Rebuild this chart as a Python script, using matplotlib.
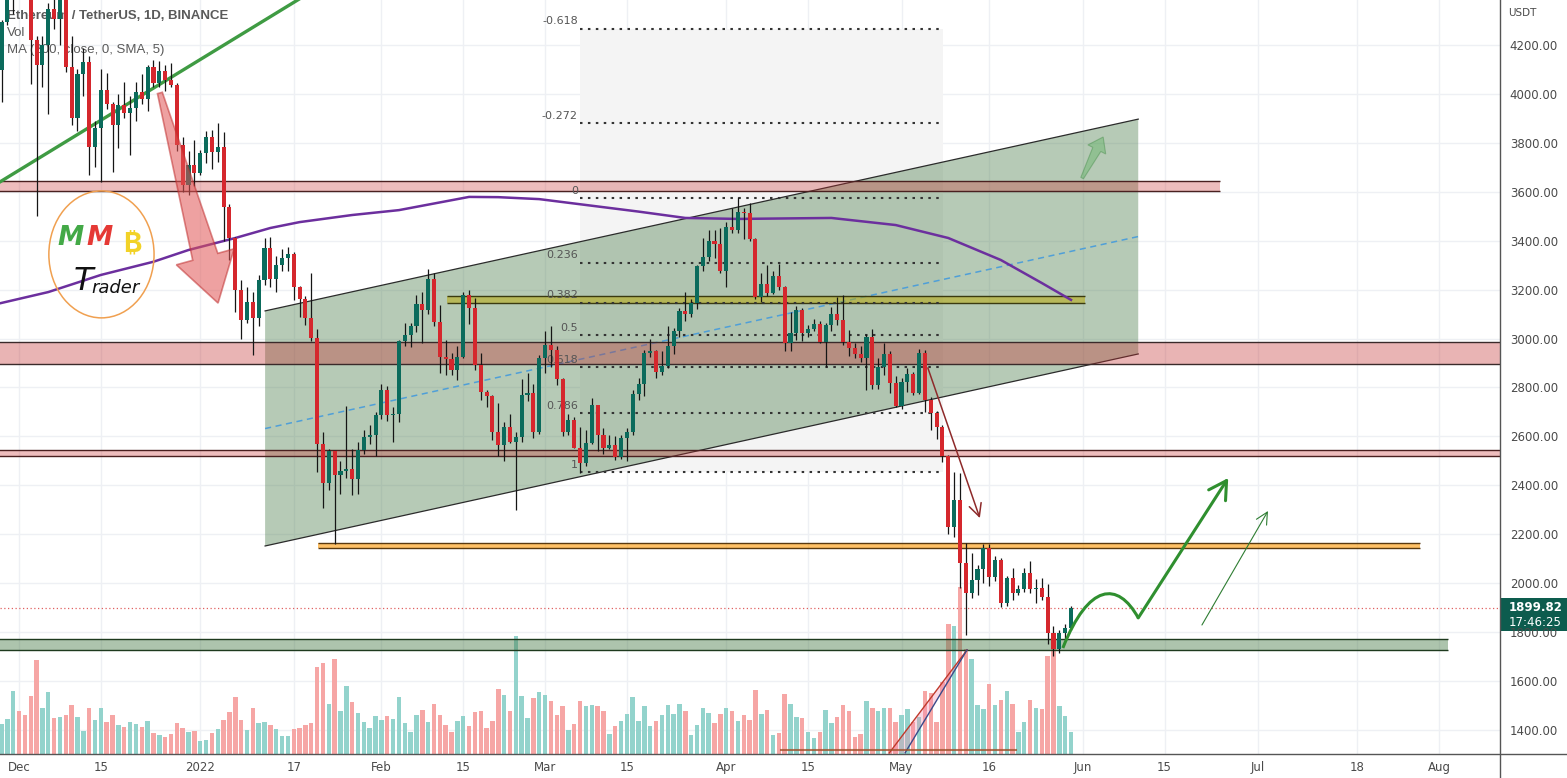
#! /usr/bin/env python3

"ETH/USDT daily candles with trading drawings, TradingView-like screenshot"

import numpy as np
import pandas as pd
import matplotlib
matplotlib.use("Agg")
import matplotlib.pyplot as plt
import matplotlib.patches as mpatches
from matplotlib.path import Path
from matplotlib.lines import Line2D
from matplotlib.transforms import IdentityTransform

# ---- data: one candle per day starting 2021-11-28 ----
start = pd.Timestamp("2021-11-28")
first_open = 4096

closes = [4293, 4444, 4631, 4586, 4511, 4220, 4119, 4198, 4346, 4308,
          4433, 4111, 3901, 4083, 4131, 3782, 3861, 4016, 3960, 3873,
          3955, 3921, 3941, 4009, 3978, 4111, 4046, 4094, 4057, 4036,
          3791, 3628, 3709, 3677, 3758, 3824, 3763, 3783, 3538, 3411,
          3198, 3076, 3149, 3084, 3239, 3370, 3243, 3300, 3330, 3345,
          3211, 3162, 3084, 3002, 2569, 2411, 2541, 2442, 2459, 2467,
          2425, 2545, 2598, 2604, 2687, 2790, 2687, 2692, 2991, 3014,
          3051, 3141, 3117, 3243, 3069, 2926, 2915, 2871, 2925, 3178,
          3124, 2892, 2781, 2765, 2618, 2565, 2638, 2578, 2597, 2769,
          2778, 2619, 2920, 2974, 2953, 2835, 2619, 2667, 2553, 2491,
          2573, 2728, 2606, 2554, 2565, 2517, 2593, 2618, 2773, 2814,
          2941, 2948, 2863, 2889, 2970, 3032, 3113, 3100, 3145, 3297,
          3333, 3399, 3385, 3278, 3457, 3444, 3519, 3515, 3407, 3170,
          3223, 3187, 3256, 3210, 2983, 3024, 3117, 3024, 3040, 3059,
          2987, 3057, 3100, 3076, 2987, 2963, 2935, 2920, 3006, 2810,
          2885, 2937, 2818, 2724, 2824, 2855, 2779, 2942, 2749, 2697,
          2640, 2520, 2230, 2340, 2083, 1961, 2012, 2058, 2145, 2025,
          2095, 1918, 2021, 1960, 1975, 2043, 1976, 1979, 1943, 1796,
          1731, 1796, 1817, 1899.82]

highs = [4302, 4460, 4779, 4778, 4647, 4650, 4236, 4237, 4370, 4445,
         4435, 4490, 4236, 4100, 4188, 4155, 3890, 4100, 4086, 3968,
         4000, 4048, 3990, 4050, 4080, 4120, 4140, 4135, 4120, 4126,
         4045, 3825, 3766, 3812, 3769, 3850, 3853, 3880, 3846, 3550,
         3414, 3240, 3210, 3190, 3260, 3412, 3414, 3339, 3365, 3375,
         3355, 3215, 3174, 3270, 3039, 2620, 2550, 2540, 2500, 2724,
         2550, 2577, 2625, 2645, 2700, 2814, 2805, 2720, 2995, 3063,
         3065, 3180, 3190, 3285, 3270, 3137, 2994, 2940, 2970, 3190,
         3200, 3165, 2940, 2790, 2770, 2735, 2660, 2690, 2620, 2833,
         2860, 2815, 2933, 3032, 3050, 2971, 2840, 2693, 2680, 2638,
         2625, 2755, 2730, 2635, 2605, 2600, 2605, 2635, 2790, 2840,
         2953, 3000, 2955, 2950, 3050, 3045, 3125, 3190, 3160, 3300,
         3410, 3445, 3445, 3450, 3475, 3535, 3579, 3535, 3556, 3410,
         3270, 3300, 3275, 3306, 3216, 3110, 3135, 3125, 3056, 3080,
         3072, 3062, 3129, 3171, 3178, 3033, 2982, 2970, 3018, 3037,
         2920, 2980, 2950, 2845, 2840, 2880, 2864, 2959, 2953, 2760,
         2705, 2645, 2525, 2456, 2450, 2165, 2125, 2075, 2160, 2160,
         2110, 2103, 2030, 2060, 1991, 2060, 2092, 2015, 2020, 1995,
         1825, 1809, 1834, 1905]

lows = [3968, 4282, 4325, 4520, 4425, 4040, 3500, 4030, 3920, 4267,
        4200, 4091, 3875, 3850, 3992, 3669, 3700, 3640, 3940, 3680,
        3780, 3900, 3750, 3890, 3960, 3930, 4030, 4030, 4010, 4030,
        3765, 3600, 3585, 3623, 3670, 3718, 3695, 3720, 3400, 3320,
        3110, 3000, 3065, 2933, 3050, 3220, 3210, 3190, 3275, 3277,
        3158, 3087, 3055, 2990, 2455, 2307, 2380, 2160, 2365, 2428,
        2360, 2365, 2530, 2570, 2520, 2671, 2662, 2577, 2660, 2970,
        2965, 3025, 2980, 3100, 3050, 2860, 2850, 2850, 2830, 2920,
        3060, 2870, 2750, 2720, 2585, 2520, 2500, 2575, 2300, 2578,
        2744, 2594, 2611, 2860, 2885, 2812, 2600, 2605, 2552, 2450,
        2480, 2570, 2540, 2530, 2550, 2505, 2508, 2500, 2604, 2750,
        2765, 2925, 2840, 2850, 2880, 2935, 3005, 3070, 3090, 3120,
        3275, 3315, 3330, 3270, 3211, 3430, 3430, 3405, 3400, 3160,
        3150, 3172, 3183, 3200, 2950, 2950, 2995, 2988, 3006, 3030,
        2981, 2883, 3031, 3056, 2975, 2930, 2922, 2905, 2790, 2795,
        2793, 2850, 2778, 2720, 2710, 2780, 2770, 2775, 2700, 2625,
        2590, 2495, 2200, 2190, 1980, 1790, 1940, 1950, 2000, 1990,
        2010, 1904, 1905, 1930, 1950, 1965, 1960, 1918, 1933, 1750,
        1703, 1716, 1772, 1810]

# volume, read as bar heights off the volume pane
volumes = [30, 35, 63, 43, 39, 58, 94, 46, 62, 36,
           37, 39, 49, 37, 23, 46, 34, 46, 32, 39,
           29, 27, 32, 30, 27, 33, 21, 19, 17, 20,
           31, 26, 22, 23, 13, 14, 21, 25, 34, 42,
           57, 34, 24, 46, 31, 32, 29, 25, 18, 18,
           25, 26, 29, 31, 87, 91, 50, 95, 43, 68,
           52, 41, 32, 26, 38, 34, 38, 35, 57, 31,
           22, 39, 44, 32, 50, 39, 29, 22, 33, 38,
           28, 42, 43, 26, 33, 65, 59, 43, 118, 58,
           36, 56, 62, 59, 53, 39, 48, 24, 30, 53,
           48, 49, 48, 43, 20, 28, 33, 40, 57, 33,
           48, 28, 33, 39, 49, 40, 50, 43, 19, 29,
           46, 41, 31, 40, 46, 43, 33, 39, 34, 64,
           40, 44, 19, 21, 60, 50, 37, 36, 22, 16,
           22, 44, 31, 37, 49, 43, 17, 20, 53, 46,
           43, 46, 46, 32, 39, 45, 32, 37, 63, 61,
           32, 72, 130, 128, 167, 105, 95, 49, 45, 70,
           49, 54, 63, 50, 22, 32, 54, 46, 45, 98,
           119, 48, 38, 22]

# MA(200) read at a few days along the purple line
ma_days = [-1, 8, 17, 26, 32, 40, 46, 51, 60, 68, 80, 85, 92,
           109, 117, 126, 142, 153, 162, 171, 178, 183]
ma_vals = [3140, 3190, 3260, 3314, 3362, 3411, 3452, 3476, 3505, 3525,
           3579, 3578, 3570, 3519, 3493, 3489, 3493, 3464, 3411, 3321,
           3227, 3158]

fib_top = 3575
fib_bottom = 2455
fib_levels = [-0.618, -0.272, 0, 0.236, 0.382, 0.5, 0.618, 0.786, 1]

tick_dates = ["2021-12-01", "2021-12-15", "2022-01-01", "2022-01-17",
              "2022-02-01", "2022-02-15", "2022-03-01", "2022-03-15",
              "2022-04-01", "2022-04-15", "2022-05-01", "2022-05-16",
              "2022-06-01", "2022-06-15", "2022-07-01", "2022-07-18",
              "2022-08-01"]
tick_labels = ["Dec", "15", "2022", "17", "Feb", "15", "Mar", "15", "Apr",
               "15", "May", "16", "Jun", "15", "Jul", "18", "Aug"]
price_ticks = list(range(1400, 4201, 200))
last_price = 1899.82
countdown = "17:46:25"

UP, DOWN = "#0b6b5c", "#d5272d"
VUP, VDOWN = "#93d3cc", "#f6a6a5"
GRID = "#eef0f4"
TXT = "#4a4a4a"
SYMBOL_FONTS = ["Inter", "Noto Sans", "Roboto", "Open Sans", "Lato",
                "Liberation Sans", "DejaVu Sans"]


def fat_arrow(ax, p0, p1, tail_w, neck_w, head_w, head_len, **kw):
    "arrow polygon built in screen space between two data points"
    a = np.array(ax.transData.transform(p0))
    b = np.array(ax.transData.transform(p1))
    d = (b - a) / np.hypot(*(b - a))
    n = np.array([-d[1], d[0]])
    neck = b - d * head_len
    pts = [a + n * tail_w / 2, neck + n * neck_w / 2, neck + n * head_w / 2, b,
           neck - n * head_w / 2, neck - n * neck_w / 2, a - n * tail_w / 2]
    ax.add_artist(mpatches.Polygon(pts, closed=True, transform=IdentityTransform(),
                                   clip_on=False, **kw))


def zone(ax, x0, x1, lo, hi, color, alpha, edge):
    ax.add_patch(mpatches.Rectangle((x0, lo), x1 - x0, hi - lo, facecolor=color,
                                    alpha=alpha, edgecolor="none", zorder=3))
    ax.hlines([lo, hi], x0, x1, color=edge, lw=1.0, zorder=3.1)


if __name__ == '__main__':
    W, H = 1567, 778
    fig = plt.figure(figsize=(W / 100, H / 100), dpi=100)
    rect = [0, 24 / H, 1500 / W, 754 / H]
    vax = fig.add_axes(rect, zorder=0)
    ax = fig.add_axes(rect, zorder=1)
    ax.patch.set_visible(False)

    xmin, xmax = -0.26, 256.4
    ymin, ymax = 1301.6, 4384
    ax.set_xlim(xmin, xmax)
    ax.set_ylim(ymin, ymax)
    vax.set_xlim(xmin, xmax)
    vax.set_ylim(0, 754)

    x = np.arange(len(closes))
    c = np.array(closes, dtype=float)
    o = np.array([first_open] + closes[:-1], dtype=float)
    up = c >= o
    tick_pos = [(pd.Timestamp(d) - start).days for d in tick_dates]

    # grid + volume in the bottom layer
    for t in tick_pos:
        vax.axvline(t, color=GRID, lw=1, zorder=0)
    for p in price_ticks:
        vax.axhline((p - ymin) / (ymax - ymin) * 754, color=GRID, lw=1, zorder=0)
    vax.bar(x, volumes, width=0.76, color=np.where(up, VUP, VDOWN), linewidth=0, zorder=1)
    vax.axis("off")

    # fib background and channel
    fx0, fx1 = 99.0, 161.1
    fib_p = [fib_top - lv * (fib_top - fib_bottom) for lv in fib_levels]
    ax.add_patch(mpatches.Rectangle((fx0, min(fib_p)), fx1 - fx0, max(fib_p) - min(fib_p),
                                    facecolor="#f4f4f4", edgecolor="none", zorder=1))
    chan = [(45.1, 3113), (194.5, 3897), (194.5, 2937), (45.1, 2152)]
    ax.add_patch(mpatches.Polygon(chan, closed=True, facecolor="#4a7c4a", alpha=0.4,
                                  edgecolor="none", zorder=2))
    ax.plot([45.1, 194.5], [3113, 3897], color="#2b2b2b", lw=0.9, zorder=2.2)
    ax.plot([45.1, 194.5], [2152, 2937], color="#2b2b2b", lw=0.9, zorder=2.2)
    ax.plot([45.1, 194.5], [2632, 3417], color="#4f9fd8", lw=1.1, ls=(0, (4, 3)), zorder=2.2)

    # horizontal zones
    zone(ax, -1, 208.5, 3604, 3644, "#cc3333", 0.32, "#4a2020")
    zone(ax, -1, 260, 2896, 2986, "#c23030", 0.36, "#3a2a2a")
    zone(ax, -1, 260, 2520, 2544, "#cc3333", 0.32, "#4a2020")
    zone(ax, 54.2, 242.7, 2144, 2164, "#ff9800", 0.6, "#5a3a10")
    zone(ax, -1, 247.5, 1727, 1772, "#4a7c4a", 0.45, "#1e3a1e")
    zone(ax, 76.2, 185.4, 3145, 3174, "#b8a800", 0.5, "#3a3a10")

    # fib levels
    for lv, p in zip(fib_levels, fib_p):
        ax.hlines(p, fx0, fx1, color="#333333", lw=1.5, ls=(0, (1.2, 2.6)), zorder=4)
        ax.text(fx0 - 0.4, p + 30, "%g" % lv, ha="right", va="center", fontsize=8,
                color="#555555", zorder=4)

    # moving average and trend line
    ax.plot(ma_days, ma_vals, color="#6c2f9e", lw=1.8, zorder=5)
    ax.plot([-2, 53], [3615, 4418], color="#3f9b43", lw=2.4, zorder=5)

    # price line
    ax.axhline(last_price, color="#e06060", lw=0.9, ls=(0, (1, 2)), zorder=4)

    # candles
    ax.vlines(x, lows, highs, color="#151515", lw=0.9, zorder=6)
    ax.bar(x, np.maximum(np.abs(c - o), 4), bottom=np.minimum(o, c), width=0.7,
           color=np.where(up, UP, DOWN), linewidth=0, zorder=7)

    # legend text (behind candles)
    leg = dict(transform=ax.transAxes, fontsize=9.5, color="#5a5a5a", zorder=0.5,
               family=["Liberation Sans", "DejaVu Sans"], va="center")
    ax.text(7 / 1500, 1 - 16 / 754, "Ethereum / TetherUS, 1D, BINANCE", weight="bold", **leg)
    ax.text(7 / 1500, 1 - 33 / 754, "Vol", **leg)
    ax.text(7 / 1500, 1 - 50 / 754, "MA (200, close, 0, SMA, 5)", **leg)

    # drawings
    fat_arrow(ax, (27.1, 4004), (37.05, 3145), 5, 26, 60, 48,
              facecolor="#e05555", alpha=0.55, edgecolor="#c03030", lw=1.2, zorder=9)
    fat_arrow(ax, (184.9, 3656), (188.5, 3824), 3, 9, 20, 14,
              facecolor="#4caf50", alpha=0.35, edgecolor="#2e7d32", lw=0.8, zorder=9)
    ax.annotate("", xy=(167.4, 2266), xytext=(158.5, 2880),
                arrowprops=dict(arrowstyle="->,head_length=0.6,head_width=0.3",
                                color="#8e2a2a", lw=1.1, shrinkA=0, shrinkB=0,
                                mutation_scale=15), zorder=9)
    green = "#2f8f2f"
    curve = Path([(181.6, 1735), (186, 2000), (191, 2010), (194.5, 1858)],
                 [Path.MOVETO, Path.CURVE4, Path.CURVE4, Path.CURVE4])
    ax.add_patch(mpatches.PathPatch(curve, fill=False, edgecolor=green, lw=2.2, zorder=9))
    ax.annotate("", xy=(209.9, 2430), xytext=(194.5, 1858),
                arrowprops=dict(arrowstyle="->,head_length=0.7,head_width=0.4",
                                color=green, lw=2.2, shrinkA=0, shrinkB=0,
                                mutation_scale=18), zorder=9)
    ax.annotate("", xy=(216.7, 2295), xytext=(205.4, 1829),
                arrowprops=dict(arrowstyle="->,head_length=0.6,head_width=0.3",
                                color="#2e7d32", lw=0.8, shrinkA=0, shrinkB=0,
                                mutation_scale=14), zorder=9)
    ax.add_patch(mpatches.Polygon([(151.9, 1306), (165.2, 1727), (154.6, 1306)],
                                  closed=True, facecolor="#f48fb1", alpha=0.35,
                                  edgecolor="none", zorder=8))
    ax.plot([151.9, 165.2], [1306, 1727], color="#c0392b", lw=1, zorder=8)
    ax.plot([154.6, 165.2], [1306, 1727], color="#3a4a8a", lw=1, zorder=8)
    ax.plot([133.4, 173.6], [1318, 1318], color="#a0522d", lw=1.5, alpha=0.8, zorder=8)

    # logo
    ax.add_patch(mpatches.Ellipse((17.1, 3344), 18.0, 519, fill=False,
                                  edgecolor="#f0a050", lw=1.1, zorder=8))
    lg = dict(transform=ax.transAxes, ha="center", va="center", zorder=8)
    ax.text(71 / 1500, 1 - 238 / 754, "M", fontsize=19, color="#43a947",
            style="italic", weight="bold", **lg)
    ax.text(100 / 1500, 1 - 238 / 754, "M", fontsize=19, color="#e53935",
            style="italic", weight="bold", **lg)
    ax.text(132 / 1500, 1 - 244 / 754, "\u20bf", fontsize=20, color="#f2d227",
            weight="bold", family=SYMBOL_FONTS, **lg)
    ax.text(83 / 1500, 1 - 282 / 754, "T", fontsize=23, color="#111111",
            style="italic", **lg)
    ax.text(115 / 1500, 1 - 288 / 754, "rader", fontsize=13, color="#111111",
            style="italic", **lg)

    # axes
    for s in ax.spines.values():
        s.set_visible(False)
    ax.yaxis.tick_right()
    ax.set_yticks(price_ticks)
    ax.set_yticklabels(["%.2f" % p for p in price_ticks])
    ax.tick_params(axis="y", length=0, pad=7, labelsize=8.5, labelcolor=TXT)
    ax.set_xticks(tick_pos)
    ax.set_xticklabels(tick_labels, family=["Liberation Sans Narrow", "DejaVu Sans"])
    ax.tick_params(axis="x", length=0, pad=5, labelsize=8.5, labelcolor=TXT)

    fig.add_artist(Line2D([0, 1], [24 / H, 24 / H], color="#555555", lw=1))
    fig.add_artist(Line2D([1500 / W, 1500 / W], [0, 1], color="#555555", lw=1))
    fig.text(1508 / W, 1 - 13 / H, "USDT", fontsize=7.5, color=TXT, va="center")

    # last price tag
    yl = 1 - ((ymax - last_price) / (ymax - ymin) * 754) / H
    fig.add_artist(mpatches.Rectangle((1500 / W, yl - 23 / H), 67 / W, 33 / H,
                                      facecolor="#0d5c4e", edgecolor="none"))
    fig.text(1509 / W, yl, "%.2f" % last_price, fontsize=8.5, color="white",
             weight="bold", va="center")
    fig.text(1509 / W, yl - 15 / H, countdown, fontsize=8.5, color="white", va="center")

    fig.savefig("out.png", dpi=100)
